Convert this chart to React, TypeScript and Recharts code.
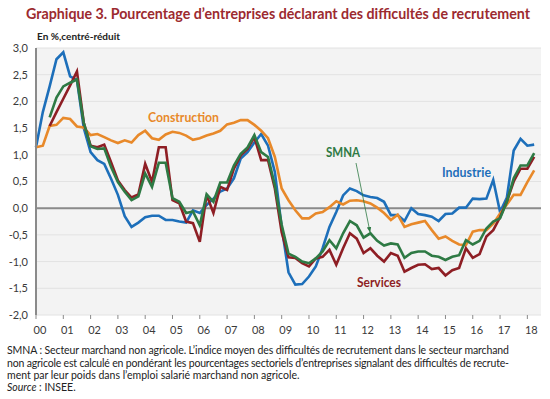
import React from "react";
import { LineChart, Line, XAxis, YAxis, CartesianGrid, ReferenceLine } from "recharts";

// quarterly points, 2000 T1 -> 2018 T2 (index = quarter number)
const yearLabels = ["00", "01", "02", "03", "04", "05", "06", "07", "08", "09", "10", "11", "12", "13", "14", "15", "16", "17", "18"];
const yTicks = [-2, -1.5, -1, -0.5, 0, 0.5, 1, 1.5, 2, 2.5, 3];

const industrie = [
  1.14, 1.8, 2.28, 2.79, 2.92, 2.47, 2.4, 1.5, 1.05, 0.9,
  0.83, 0.55, 0.25, -0.15, -0.35, -0.27, -0.17, -0.14, -0.14, -0.22,
  -0.22, -0.25, -0.27, -0.04, -0.09, 0.06, 0.18, 0.31, 0.37, 0.56,
  0.93, 1.05, 1.23, 1.39, 1.17, 0.68, -0.35, -1.2, -1.43, -1.42,
  -1.28, -1.09, -0.75, -0.35, -0.07, 0.24, 0.37, 0.32, 0.24, 0.21,
  0.19, 0.12, -0.13, -0.13, -0.24, 0, -0.11, -0.13, -0.16, -0.24,
  -0.11, -0.1, 0.01, 0.01, 0.18, 0.17, 0.18, 0.53, -0.07, 0.2,
  1.08, 1.3, 1.17, 1.19,
];

const construction = [
  1.14, 1.17, 1.54, 1.56, 1.69, 1.67, 1.53, 1.51, 1.37, 1.39,
  1.33, 1.27, 1.22, 1.27, 1.23, 1.37, 1.45, 1.31, 1.28, 1.38,
  1.43, 1.41, 1.36, 1.28, 1.31, 1.36, 1.4, 1.45, 1.57, 1.6,
  1.65, 1.65, 1.56, 1.45, 1.31, 0.96, 0.37, 0.15, -0.04, -0.19,
  -0.19, -0.1, -0.07, 0.02, 0.13, 0.07, 0.14, 0.15, 0.13, 0.09,
  0.01, -0.09, -0.22, -0.12, -0.35, -0.3, -0.27, -0.24, -0.41, -0.57,
  -0.53, -0.61, -0.68, -0.69, -0.44, -0.41, -0.41, -0.29, -0.1, 0.07,
  0.25, 0.25, 0.49, 0.71,
];

const services = [
  null, null, 1.54, 1.8, 2.05, 2.3, 2.56, 1.6, 1.17, 1.14,
  1.19, 0.86, 0.52, 0.34, 0.2, 0.26, 0.83, 0.49, 1.14, 1.14,
  0.15, 0.09, -0.25, -0.28, -0.63, 0.25, -0.09, 0.4, 0.34, 0.74,
  0.99, 1.11, 1.33, 0.9, 0.9, 0.37, -0.45, -0.92, -0.93, -1.03,
  -1.09, -0.94, -0.91, -0.78, -1.06, -0.75, -0.47, -0.57, -0.84, -0.75,
  -0.89, -1.0, -0.84, -0.89, -1.19, -1.12, -1.06, -1.05, -1.14, -1.12,
  -1.26, -1.16, -1.12, -0.75, -0.93, -0.86, -0.53, -0.41, -0.17, 0.13,
  0.5, 0.74, 0.74, 0.96,
];

const smna = [
  null, null, 1.7, 2.07, 2.28, 2.35, 2.41, 1.6, 1.16, 1.11,
  1.12, 0.77, 0.49, 0.31, 0.15, 0.22, 0.65, 0.4, 0.85, 0.85,
  0.19, 0.12, -0.09, -0.06, -0.32, 0.26, 0.12, 0.48, 0.48, 0.8,
  1.02, 1.14, 1.37, 1.05, 0.96, 0.43, -0.31, -0.85, -0.91, -1.0,
  -1.03, -0.94, -0.81, -0.6, -0.75, -0.47, -0.24, -0.32, -0.55, -0.47,
  -0.61, -0.7, -0.66, -0.68, -0.93, -0.84, -0.81, -0.81, -0.89, -0.91,
  -0.97, -0.91, -0.88, -0.6, -0.68, -0.61, -0.38, -0.25, -0.19, 0.12,
  0.56, 0.8, 0.8, 1.03,
];

const data = industrie.map((v, i) => ({
  q: i,
  industrie: v,
  construction: construction[i],
  services: services[i],
  smna: smna[i],
}));

const FONT = "Lato, 'Open Sans', sans-serif";
const BLUE = "#1d6fba";
const ORANGE = "#e8892a";
const GREEN = "#2e7a44";
const RED = "#8e1e24";

const YearTick = ({ x, y, payload }: any) => (
  <text x={x + 4} y={y + 1} dy="0.71em" textAnchor="middle" fontSize={11} fill="#3a3a3a" fontFamily={FONT}>
    {yearLabels[Math.round(payload.value / 4)]}
  </text>
);

export default function App() {
  return (
    <div style={{ position: "absolute", left: 0, top: 0, width: 550, height: 399, background: "#fff", fontFamily: FONT }}>
      <LineChart width={550} height={340} data={data} margin={{ top: 48, right: 9, left: 6, bottom: 5 }}>
        <CartesianGrid vertical={false} stroke="#e2e2e2" fill="#f3f3f3" />
        <XAxis
          dataKey="q"
          type="number"
          domain={[0, 74]}
          ticks={yearLabels.map((_, k) => k * 4)}
          tick={<YearTick />}
          tickSize={4}
          tickMargin={6}
          axisLine={false}
          tickLine={{ stroke: "#8a8a8a" }}
          height={20}
        />
        <YAxis
          domain={[-2, 3]}
          ticks={yTicks}
          width={30}
          tickSize={6}
          tickLine={false}
          axisLine={{ stroke: "#8a8a8a", strokeWidth: 2 }}
          tick={{ fontSize: 11, fill: "#3a3a3a", fontFamily: FONT }}
          tickFormatter={(v: number) => v.toFixed(1).replace(".", ",")}
        />
        <ReferenceLine y={0} stroke="#8a8a8a" strokeWidth={2} />
        <Line type="linear" dataKey="industrie" stroke={BLUE} strokeWidth={2.6} dot={false} isAnimationActive={false} />
        <Line type="linear" dataKey="construction" stroke={ORANGE} strokeWidth={2.6} dot={false} isAnimationActive={false} />
        <Line type="linear" dataKey="services" stroke={RED} strokeWidth={2.6} dot={false} isAnimationActive={false} />
        <Line type="linear" dataKey="smna" stroke={GREEN} strokeWidth={2.6} dot={false} isAnimationActive={false} />
      </LineChart>

      <svg width={550} height={399} style={{ position: "absolute", left: 0, top: 0, pointerEvents: "none" }} fontFamily={FONT}>
        <defs>
          <marker id="arrowGreen" viewBox="0 0 10 10" refX="9" refY="5" markerWidth="7" markerHeight="7" orient="auto">
            <path d="M0,1 L10,5 L0,9 z" fill={GREEN} />
          </marker>
        </defs>
        <text x={26} y={19} fontSize={14.5} fontWeight={700} fill="#9c2a2f" textLength={504} lengthAdjust="spacingAndGlyphs">
          Graphique 3. Pourcentage d’entreprises déclarant des difficultés de recrutement
        </text>
        <text x={37} y={40} fontSize={10} fontWeight={700} fill="#222" textLength={83} lengthAdjust="spacingAndGlyphs">
          En %,centré-réduit
        </text>

        <text x={148} y={122} fontSize={12.5} fontWeight={700} fill={ORANGE} textLength={71} lengthAdjust="spacingAndGlyphs">Construction</text>
        <text x={326} y={157} fontSize={12.5} fontWeight={700} fill={GREEN} textLength={34} lengthAdjust="spacingAndGlyphs">SMNA</text>
        <text x={442} y={177} fontSize={12.5} fontWeight={700} fill={BLUE} textLength={49} lengthAdjust="spacingAndGlyphs">Industrie</text>
        <text x={357} y={287} fontSize={12.5} fontWeight={700} fill={RED} textLength={44} lengthAdjust="spacingAndGlyphs">Services</text>
        <line x1={356} y1={163} x2={370} y2={232} stroke={GREEN} strokeWidth={0.8} markerEnd="url(#arrowGreen)" />

        <g fontSize={10.5} fill="#222">
          <text x={7} y={354} textLength={502} lengthAdjust="spacing">
            SMNA : Secteur marchand non agricole. L’indice moyen des difficultés de recrutement dans le secteur marchand
          </text>
          <text x={7} y={366.5} textLength={502} lengthAdjust="spacing">
            non agricole est calculé en pondérant les pourcentages sectoriels d’entreprises signalant des difficultés de recrute-
          </text>
          <text x={7} y={379}>
            ment par leur poids dans l’emploi salarié marchand non agricole.
          </text>
          <text x={7} y={391}>
            <tspan fontStyle="italic">Source</tspan> : INSEE.
          </text>
        </g>
      </svg>
    </div>
  );
}
